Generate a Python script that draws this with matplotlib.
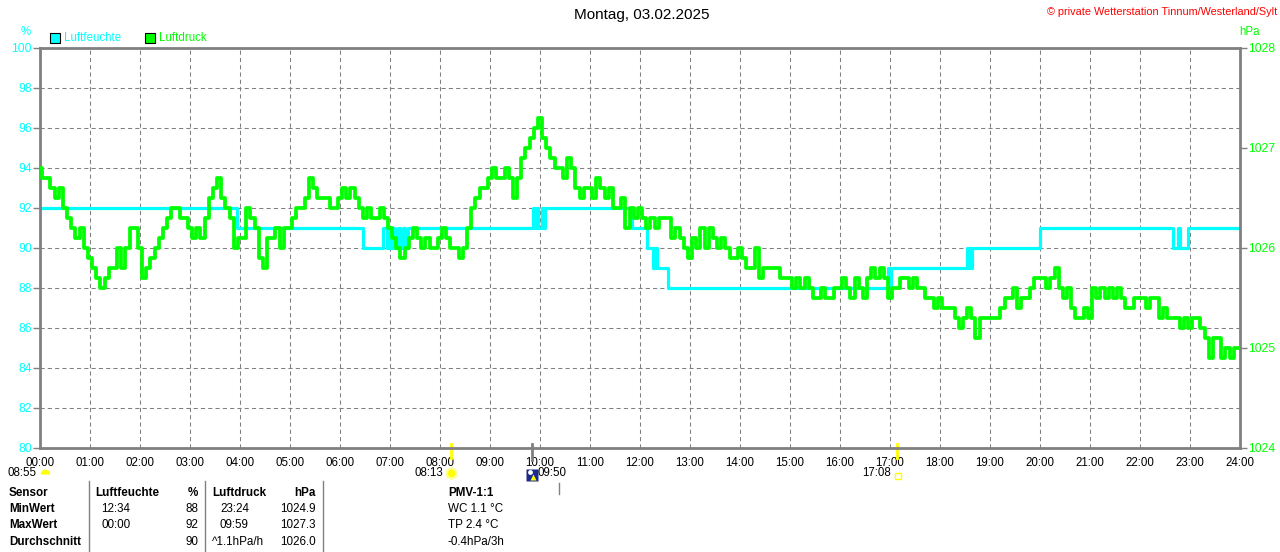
import matplotlib
matplotlib.use("Agg")
import matplotlib.pyplot as plt
import matplotlib.transforms as mtrans
from matplotlib.patches import Rectangle
import numpy as np

plt.rcParams['font.family'] = ['Liberation Sans', 'DejaVu Sans']

W, H = 1280, 552
CYAN = '#00ffff'
GREEN = '#00ff00'
GRAY = '#808080'

title = "Montag, 03.02.2025"
credit = "© private Wetterstation Tinnum/Westerland/Sylt"

hour_labels = ["%02d:00" % h for h in range(25)]
hum_ticks = list(range(80, 101, 2))
hpa_ticks = [1024, 1025, 1026, 1027, 1028]

# Luftdruck in hPa, alle 5 Minuten (eine Zeile je Stunde)
pressure = [
    1026.8, 1026.7, 1026.7, 1026.6, 1026.5, 1026.6, 1026.4, 1026.3, 1026.2, 1026.1, 1026.2, 1026.0,
    1025.9, 1025.8, 1025.7, 1025.6, 1025.7, 1025.8, 1025.8, 1026.0, 1025.8, 1026.0, 1026.2, 1026.2,
    1026.0, 1025.7, 1025.8, 1025.9, 1026.0, 1026.1, 1026.2, 1026.3, 1026.4, 1026.4, 1026.3, 1026.3,
    1026.2, 1026.1, 1026.2, 1026.1, 1026.3, 1026.5, 1026.6, 1026.7, 1026.5, 1026.4, 1026.3, 1026.0,
    1026.1, 1026.1, 1026.4, 1026.3, 1026.2, 1025.9, 1025.8, 1026.1, 1026.1, 1026.2, 1026.0, 1026.2,
    1026.2, 1026.3, 1026.4, 1026.4, 1026.5, 1026.7, 1026.6, 1026.5, 1026.5, 1026.5, 1026.4, 1026.4,
    1026.5, 1026.6, 1026.5, 1026.6, 1026.5, 1026.4, 1026.3, 1026.4, 1026.3, 1026.3, 1026.4, 1026.3,
    1026.2, 1026.1, 1026.0, 1025.9, 1026.0, 1026.1, 1026.2, 1026.1, 1026.0, 1026.1, 1026.0, 1026.0,
    1026.1, 1026.2, 1026.1, 1026.0, 1026.0, 1025.9, 1026.0, 1026.2, 1026.4, 1026.5, 1026.6, 1026.6,
    1026.7, 1026.8, 1026.7, 1026.7, 1026.8, 1026.7, 1026.5, 1026.7, 1026.9, 1027.0, 1027.1, 1027.2,
    1027.3, 1027.1, 1027.0, 1026.9, 1026.8, 1026.8, 1026.7, 1026.9, 1026.8, 1026.6, 1026.5, 1026.6,
    1026.6, 1026.5, 1026.7, 1026.6, 1026.5, 1026.6, 1026.4, 1026.4, 1026.5, 1026.2, 1026.4, 1026.3,
    1026.4, 1026.3, 1026.2, 1026.3, 1026.2, 1026.3, 1026.3, 1026.3, 1026.1, 1026.2, 1026.1, 1026.0,
    1025.9, 1026.1, 1026.0, 1026.2, 1026.0, 1026.2, 1026.1, 1026.0, 1026.1, 1026.0, 1025.9, 1025.9,
    1026.0, 1025.9, 1025.8, 1025.8, 1026.0, 1025.7, 1025.8, 1025.8, 1025.8, 1025.8, 1025.7, 1025.7,
    1025.7, 1025.6, 1025.7, 1025.6, 1025.7, 1025.6, 1025.5, 1025.5, 1025.6, 1025.5, 1025.5, 1025.6,
    1025.6, 1025.7, 1025.6, 1025.5, 1025.7, 1025.6, 1025.5, 1025.7, 1025.8, 1025.7, 1025.8, 1025.7,
    1025.5, 1025.6, 1025.6, 1025.7, 1025.7, 1025.6, 1025.7, 1025.6, 1025.6, 1025.5, 1025.5, 1025.4,
    1025.5, 1025.4, 1025.4, 1025.4, 1025.3, 1025.2, 1025.3, 1025.4, 1025.3, 1025.1, 1025.3, 1025.3,
    1025.3, 1025.3, 1025.3, 1025.4, 1025.5, 1025.5, 1025.6, 1025.4, 1025.5, 1025.5, 1025.6, 1025.7,
    1025.7, 1025.7, 1025.6, 1025.7, 1025.8, 1025.6, 1025.5, 1025.6, 1025.4, 1025.3, 1025.3, 1025.4,
    1025.3, 1025.6, 1025.5, 1025.6, 1025.5, 1025.6, 1025.5, 1025.6, 1025.5, 1025.4, 1025.4, 1025.5,
    1025.5, 1025.5, 1025.4, 1025.5, 1025.5, 1025.3, 1025.4, 1025.3, 1025.3, 1025.3, 1025.2, 1025.3,
    1025.2, 1025.3, 1025.3, 1025.2, 1025.1, 1024.9, 1025.1, 1025.1, 1024.9, 1025.0, 1024.9, 1025.0,
    1025.0,
]

# Luftfeuchte in %, Wertwechsel (Uhrzeit, neuer Wert)
hum_times = ["00:00", "03:56", "06:28", "06:52", "06:56", "07:00", "07:02", "07:04", "07:06",
             "07:10", "07:12", "07:16", "07:18", "07:22", "09:52", "09:54", "09:56", "09:58",
             "10:02", "10:04", "10:06", "11:50", "12:08", "12:16", "12:18", "12:20", "12:34",
             "16:58", "16:59", "17:01", "18:32", "18:34", "18:36", "18:37", "18:38", "20:00",
             "22:40", "22:46", "22:48", "22:57", "24:00"]
hum_vals = [92, 91, 90, 91, 90, 91, 90, 91, 90,
            91, 90, 91, 90, 91, 92, 91, 92, 91,
            92, 91, 92, 91, 90, 89, 90, 89, 88,
            89, 88, 89, 90, 89, 90, 89, 90, 91,
            90, 91, 90, 91, 91]

moon_time = "08:55"
sunrise = "08:13"
noon = "09:50"
sunset = "17:08"

# Tabelle
row_names = ["MinWert", "MaxWert", "Durchschnitt"]
hum_when = ["12:34", "00:00", ""]
hum_stat = ["88", "92", "90"]
hpa_when = ["23:24", "09:59", "^1.1hPa/h"]
hpa_stat = ["1024.9", "1027.3", "1026.0"]
pmv_rows = ["WC 1.1 °C", "TP 2.4 °C", "-0.4hPa/3h"]


def hrs(s):
    h, m = s.split(":")
    return int(h) + int(m) / 60


def fx(x):
    return x / W


def fy(y):
    return 1 - y / H


fig = plt.figure(figsize=(W / 100, H / 100), dpi=100)
fig.patch.set_facecolor('white')
ax = fig.add_axes([fx(40), fy(448), 1200 / W, 400 / H])
ax2 = ax.twinx()

# Luftfeuchte
ht = [hrs(s) for s in hum_times]
ax.plot(ht, hum_vals, drawstyle='steps-post', color=CYAN, lw=2.3)
ax.set_xlim(0, 24)
ax.set_ylim(80, 100)
ax.set_xticks(range(25))
ax.set_xticklabels(hour_labels)
ax.set_yticks(hum_ticks)
ax.grid(True, color=GRAY, linestyle=(0, (4, 3)), linewidth=0.75)
ax.tick_params(axis='y', colors=GRAY, labelcolor=CYAN, length=5, width=1, pad=1, labelsize=8.8)
ax.tick_params(axis='x', length=0, pad=6.5, labelsize=8.3, labelcolor='black')
for side in ['left', 'right', 'top', 'bottom']:
    ax.spines[side].set_color(GRAY)
    ax.spines[side].set_linewidth(2.0)

# Luftdruck
pt = np.arange(len(pressure)) * 5 / 60
ax2.plot(pt, pressure, drawstyle='steps-mid', color=GREEN, lw=2.7)
ax2.set_ylim(1024, 1028)
ax2.set_yticks(hpa_ticks)
ax2.tick_params(axis='y', colors=GRAY, labelcolor=GREEN, length=5, width=1, pad=1, labelsize=8.8)
for side in ['left', 'right', 'top', 'bottom']:
    ax2.spines[side].set_visible(False)

# Kopf
fig.text(fx(642), fy(15), title, ha='center', va='center', fontsize=11)
fig.text(fx(1277), fy(12), credit, ha='right', va='center', fontsize=7.8, color='#ff0000')
fig.text(fx(26), fy(32), "%", ha='center', va='center', fontsize=8.3, color=CYAN)
fig.text(fx(1250), fy(32), "hPa", ha='center', va='center', fontsize=8.3, color=GREEN)

for x0, col, lab in [(50, CYAN, "Luftfeuchte"), (145, GREEN, "Luftdruck")]:
    fig.add_artist(Rectangle((fx(x0), fy(43)), 10 / W, 10 / H, transform=fig.transFigure,
                             facecolor=col, edgecolor='black', lw=0.8))
    fig.text(fx(x0 + 14), fy(38), lab, ha='left', va='center', fontsize=8.3, color=col)

# Sonne / Mond unter der Zeitachse
bt = mtrans.blended_transform_factory(ax.transData, fig.transFigure)


def shifted(dx):
    return mtrans.offset_copy(bt, fig=fig, x=dx, y=0, units='dots')


t_rise = hrs(sunrise)
t_noon = hrs(noon)
t_set = hrs(sunset)
ax.plot([t_rise, t_rise], [fy(444), fy(458)], transform=bt, color='#ffff00', lw=2, clip_on=False)
ax.plot([t_set, t_set], [fy(444), fy(458)], transform=bt, color='#ffff00', lw=2, clip_on=False)
ax.plot([t_noon, t_noon], [fy(444), fy(460)], transform=bt, color=GRAY, lw=2, clip_on=False)

fig.text(fx(37), fy(473), moon_time, ha='right', va='center', fontsize=8.3)
ax.plot([0.1], [fy(474)], transform=bt, marker='o', ms=7, mfc='#ffff00', mec='none',
        fillstyle='top', clip_on=False)

ax.text(t_rise, fy(473), sunrise, transform=shifted(-8), ha='right', va='center', fontsize=8.3)
ax.plot([t_rise], [fy(473)], transform=bt, marker='o', ms=9, mfc='#ffffa0', mec='none', clip_on=False)
ax.plot([t_rise], [fy(473)], transform=bt, marker='o', ms=5.5, mfc='#ffff00', mec='none', clip_on=False)

ax.plot([t_noon], [fy(475)], transform=bt, marker='s', ms=8, mfc='#1c2a8c', mec='none', clip_on=False)
ax.plot([t_noon], [fy(472)], transform=shifted(-2), marker='o', ms=3.5, mfc='white', mec='none',
        clip_on=False)
ax.plot([t_noon], [fy(477)], transform=shifted(1), marker='^', ms=4, mfc='#ffff00', mec='none',
        clip_on=False)
ax.text(t_noon, fy(473), noon, transform=shifted(6), ha='left', va='center', fontsize=8.3)

ax.text(t_set, fy(473), sunset, transform=shifted(-6), ha='right', va='center', fontsize=8.3)
ax.plot([t_set], [fy(476)], transform=shifted(1), marker='s', ms=4.5, mfc='white', mec='#ffff00',
        mew=1, clip_on=False)

# Tabelle
for x in [88.6, 205.4, 323.2]:
    fig.add_artist(plt.Line2D([fx(x), fx(x)], [fy(481), fy(552)], transform=fig.transFigure,
                              color=GRAY, lw=1))
fig.add_artist(plt.Line2D([fx(559), fx(559)], [fy(483), fy(494)], transform=fig.transFigure,
                          color=GRAY, lw=1))

ys = [493, 509, 525, 542]
fs = 8.4
fig.text(fx(9), fy(ys[0]), "Sensor", ha='left', va='center', fontsize=fs, weight='bold')
fig.text(fx(95), fy(ys[0]), "Luftfeuchte", ha='left', va='center', fontsize=fs, weight='bold')
fig.text(fx(198), fy(ys[0]), "%", ha='right', va='center', fontsize=fs, weight='bold')
fig.text(fx(212), fy(ys[0]), "Luftdruck", ha='left', va='center', fontsize=fs, weight='bold')
fig.text(fx(316), fy(ys[0]), "hPa", ha='right', va='center', fontsize=fs, weight='bold')
fig.text(fx(448), fy(ys[0]), "PMV-1:1", ha='left', va='center', fontsize=fs, weight='bold')
for i, y in enumerate(ys[1:]):
    fig.text(fx(9), fy(y), row_names[i], ha='left', va='center', fontsize=fs, weight='bold')
    fig.text(fx(101), fy(y), hum_when[i], ha='left', va='center', fontsize=fs)
    fig.text(fx(198), fy(y), hum_stat[i], ha='right', va='center', fontsize=fs)
    hx = 212 if hpa_when[i].startswith("^") else 220
    fig.text(fx(hx), fy(y), hpa_when[i], ha='left', va='center', fontsize=fs)
    fig.text(fx(316), fy(y), hpa_stat[i], ha='right', va='center', fontsize=fs)
    fig.text(fx(448), fy(y), pmv_rows[i], ha='left', va='center', fontsize=fs)

fig.savefig("out.png", dpi=100, facecolor='white')
